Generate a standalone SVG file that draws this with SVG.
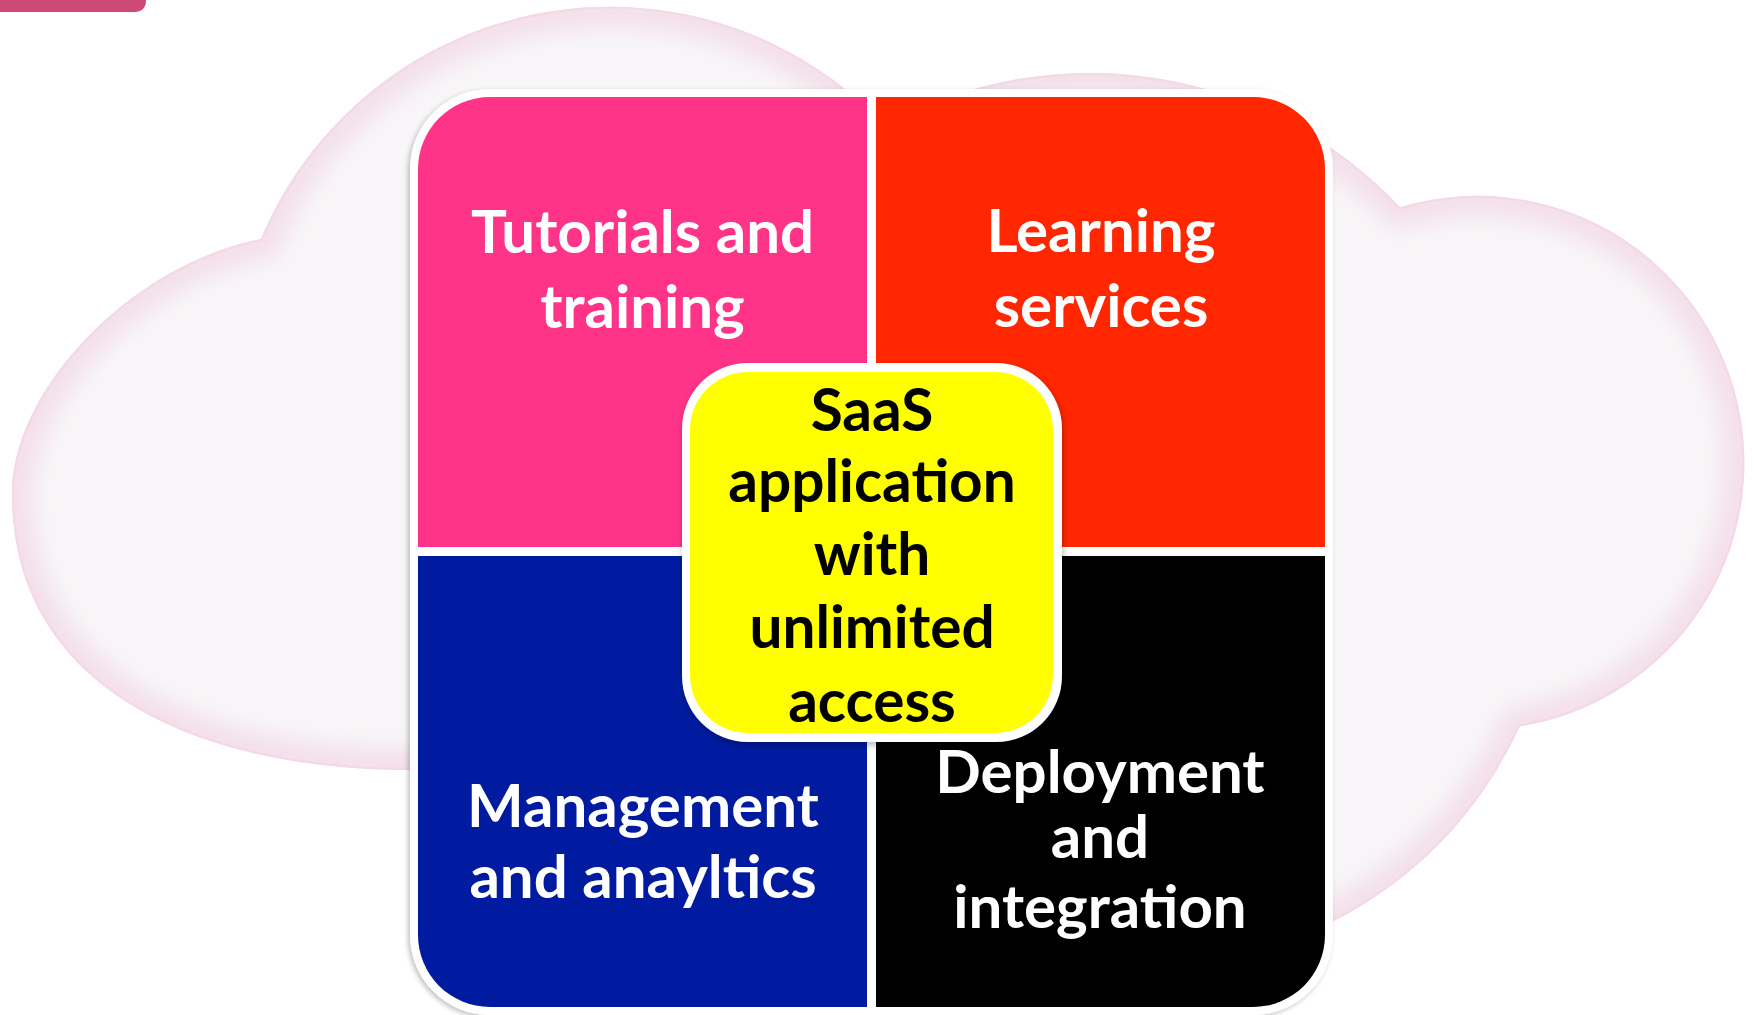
<svg xmlns="http://www.w3.org/2000/svg" width="1754" height="1015" viewBox="0 0 1754 1015">
  <defs>
    <style>
      .lbl{font-family:Lato,"Open Sans","Liberation Sans",sans-serif;font-weight:700;font-size:60px;text-anchor:middle}
      .c{font-size:58.5px}
      .w{fill:#ffffff}
      .k{fill:#000000}
    </style>
    <path id="cloudPath" d="M 420 770 C 200 772 12 690 12 494 C 12 390 130 265 261 239 A 378 378 0 0 1 885 125.7 A 425 425 0 0 1 1400 207.3 A 267 267 0 1 1 1519.5 726.5 A 405 405 0 0 1 1150 965 L 600 965 Z"/>
    <clipPath id="cloudClip">
      <path d="M 420 770 C 200 772 12 690 12 494 C 12 390 130 265 261 239 A 378 378 0 0 1 885 125.7 A 425 425 0 0 1 1400 207.3 A 267 267 0 1 1 1519.5 726.5 A 405 405 0 0 1 1150 965 L 600 965 Z"/>
    </clipPath>
    <filter id="glow" x="-10%" y="-10%" width="120%" height="120%">
      <feGaussianBlur stdDeviation="12"/>
    </filter>
    <filter id="shadow" x="-5%" y="-5%" width="110%" height="110%">
      <feDropShadow dx="-2" dy="2" stdDeviation="2.5" flood-color="#000000" flood-opacity="0.25"/>
    </filter>
    <filter id="shadow2" x="-10%" y="-10%" width="120%" height="120%">
      <feDropShadow dx="1" dy="3" stdDeviation="3" flood-color="#000000" flood-opacity="0.28"/>
    </filter>
  </defs>

  <rect x="0" y="0" width="1754" height="1015" fill="#ffffff"/>

  <path id="corner-bar" d="M 0 0 H 146 Q 146 12 134 12 H 0 Z" fill="#cc4a74"/>

  <g id="cloud">
    <use href="#cloudPath" fill="#f8f6f8"/>
    <g clip-path="url(#cloudClip)">
      <use href="#cloudPath" fill="none" stroke="#f0cfe0" stroke-width="40" stroke-opacity="0.6" filter="url(#glow)"/>
      <use href="#cloudPath" fill="none" stroke="#f2d6e5" stroke-width="4" stroke-opacity="0.7"/>
    </g>
  </g>

  <g id="frame">
    <rect x="410" y="89" width="923" height="926" rx="80" ry="80" fill="#ffffff" filter="url(#shadow)"/>
  </g>

  <g id="node-tutorials">
    <path d="M 418 547 V 169 A 72 72 0 0 1 490 97 H 867 V 547 Z" fill="#ff3388"/>
    <text class="lbl w" x="642.5" y="253">Tutorials and</text>
    <text class="lbl w" x="642.5" y="328">training</text>
  </g>

  <g id="node-learning">
    <path d="M 876 97 H 1253 A 72 72 0 0 1 1325 169 V 547 H 876 Z" fill="#ff2600"/>
    <text class="lbl w" x="1101" y="252">Learning</text>
    <text class="lbl w" x="1101" y="327">services</text>
  </g>

  <g id="node-management">
    <path d="M 418 556 H 867 V 1007 H 490 A 72 72 0 0 1 418 935 Z" fill="#001b9f"/>
    <text class="lbl w" x="643" y="827">Management</text>
    <text class="lbl w" x="643" y="898">and anayltics</text>
  </g>

  <g id="node-deployment">
    <path d="M 876 556 H 1325 V 935 A 72 72 0 0 1 1253 1007 H 876 Z" fill="#000000"/>
    <text class="lbl w" x="1100" y="793">Deployment</text>
    <text class="lbl w" x="1100" y="858">and</text>
    <text class="lbl w" x="1100" y="928">integration</text>
  </g>

  <g id="node-saas">
    <rect x="682" y="363" width="380" height="379" rx="66" ry="66" fill="#ffffff" filter="url(#shadow2)"/>
    <rect x="690" y="372" width="363" height="361" rx="58" ry="58" fill="#ffff00"/>
    <text class="lbl c k" x="872" y="431">SaaS</text>
    <text class="lbl c k" x="872" y="502">application</text>
    <text class="lbl c k" x="872" y="575">with</text>
    <text class="lbl c k" x="872" y="648">unlimited</text>
    <text class="lbl c k" x="872" y="722">access</text>
  </g>

  <g id="connectors"/>
</svg>
